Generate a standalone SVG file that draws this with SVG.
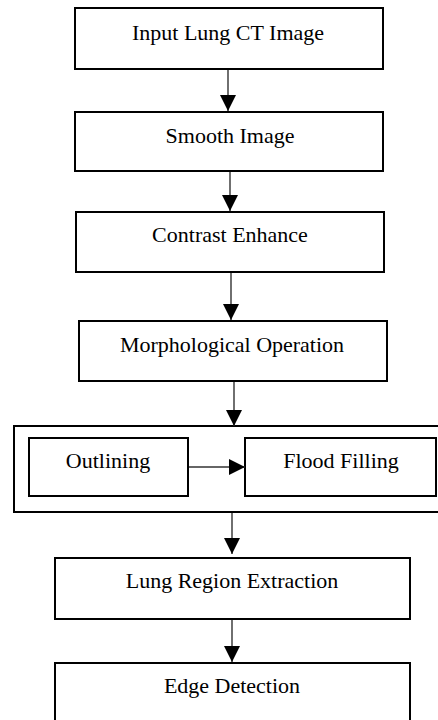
<svg xmlns="http://www.w3.org/2000/svg" width="438" height="720" viewBox="0 0 438 720">
<style>
.box{fill:#fff;stroke:#000;stroke-width:2}
.frame{fill:none;stroke:#000;stroke-width:2}
.lbl{font-family:'Liberation Serif','DejaVu Serif',serif;font-size:22px;fill:#000;text-anchor:middle}
.con{stroke:#333;stroke-width:1.4;fill:none}
</style>
<defs>
<marker id="ah" markerUnits="userSpaceOnUse" markerWidth="16" markerHeight="16" viewBox="0 0 16 16" refX="16" refY="8" orient="auto">
<path d="M0,0 L16,8 L0,16 Z" fill="#000"/>
</marker>
</defs>
<rect width="438" height="720" fill="#fff"/>
<g id="group"><path class="frame" d="M440,426 L14,426 L14,512 L440,512"/></g>
<g id="n1"><rect class="box" x="75" y="8" width="308" height="61"/><text class="lbl" x="228" y="40">Input Lung CT Image</text></g>
<g id="n2"><rect class="box" x="75" y="112" width="308" height="59"/><text class="lbl" x="230" y="143">Smooth Image</text></g>
<g id="n3"><rect class="box" x="76" y="212" width="308" height="60"/><text class="lbl" x="230" y="242">Contrast Enhance</text></g>
<g id="n4"><rect class="box" x="79" y="321" width="308" height="60"/><text class="lbl" x="232" y="352">Morphological Operation</text></g>
<g id="n5"><rect class="box" x="29" y="438" width="159" height="58"/><text class="lbl" x="108" y="468">Outlining</text></g>
<g id="n6"><rect class="box" x="245" y="438" width="191" height="58"/><text class="lbl" x="341" y="468">Flood Filling</text></g>
<g id="n7"><rect class="box" x="55" y="558" width="355" height="61"/><text class="lbl" x="232" y="588">Lung Region Extraction</text></g>
<g id="n8"><rect class="box" x="55" y="663" width="355" height="70"/><text class="lbl" x="232" y="693">Edge Detection</text></g>
<g id="connectors">
<line class="con" x1="228" y1="70" x2="228" y2="111" marker-end="url(#ah)"/>
<line class="con" x1="230" y1="172" x2="230" y2="211" marker-end="url(#ah)"/>
<line class="con" x1="231" y1="273" x2="231" y2="320" marker-end="url(#ah)"/>
<line class="con" x1="234" y1="382" x2="234" y2="426" marker-end="url(#ah)"/>
<line class="con" x1="189" y1="467" x2="245" y2="467" marker-end="url(#ah)"/>
<line class="con" x1="232" y1="513" x2="232" y2="554" marker-end="url(#ah)"/>
<line class="con" x1="232" y1="620" x2="232" y2="662" marker-end="url(#ah)"/>
</g>
</svg>
